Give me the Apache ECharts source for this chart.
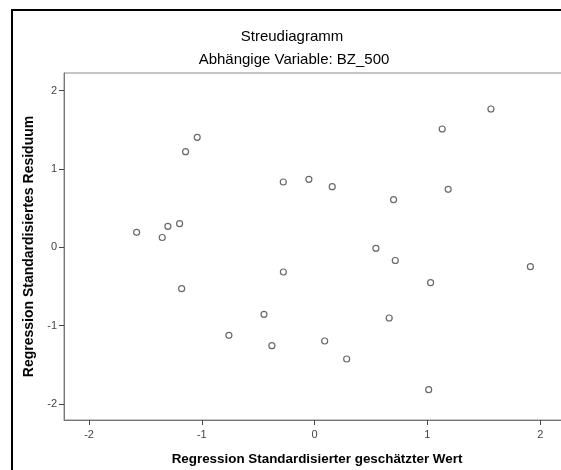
<!DOCTYPE html>
<html>
<head>
<meta charset="utf-8">
<script src="https://cdn.jsdelivr.net/npm/echarts@6/dist/echarts.min.js"></script>
<style>
html,body{margin:0;padding:0;background:#fff;overflow:hidden;}
#chart{width:561px;height:470px;}
</style>
</head>
<body>
<div id="chart"></div>
<script>
// Data
const predicted = [-1.578,-1.351,-1.301,-1.197,-1.179,-1.144,-1.041,-0.760,-0.449,-0.379,-0.277,-0.278,-0.051,0.089,0.156,0.284,0.543,0.661,0.700,0.715,1.011,1.028,1.131,1.184,1.563,1.913];
const residual  = [0.190,0.124,0.267,0.300,-0.530,1.220,1.404,-1.125,-0.857,-1.258,-0.317,0.833,0.867,-1.198,0.773,-1.428,-0.014,-0.904,0.607,-0.170,-1.820,-0.453,1.510,0.739,1.765,-0.249];
const xTicks = [-2,-1,0,1,2];
const yTicks = [-2,-1,0,1,2];
const titleText = 'Streudiagramm';
const subtitleText = 'Abhängige Variable: BZ_500';
const xName = 'Regression Standardisierter geschätzter Wert';
const yName = 'Regression Standardisiertes Residuum';

const points = predicted.map((x, i) => [x, residual[i]]);
const FONT = '"Liberation Sans", Arial, sans-serif';

const chart = echarts.init(document.getElementById('chart'), null, {renderer: 'canvas'});
chart.setOption({
  animation: false,
  backgroundColor: '#fff',
  graphic: [{
    type: 'rect',
    shape: {x: 12, y: 10, width: 900, height: 800},
    style: {fill: 'none', stroke: '#000', lineWidth: 2},
    z: 100
  }, {
    type: 'text',
    x: 292, y: 37,
    style: {text: titleText, align: 'center', verticalAlign: 'middle',
      font: 'normal 15px ' + FONT, fill: '#000'}
  }, {
    type: 'text',
    x: 294, y: 59.5,
    style: {text: subtitleText, align: 'center', verticalAlign: 'middle',
      font: 'normal 15px ' + FONT, fill: '#000'}
  }],
  grid: {
    left: 64, top: 73, width: 506, height: 347,
    outerBoundsMode: 'none',
    containLabel: false,
    show: true, borderColor: '#8a8a8a', borderWidth: 1, backgroundColor: '#fff'
  },
  xAxis: {
    type: 'value', min: -2.222, max: 2.264,
    name: xName, nameLocation: 'middle', nameGap: 33,
    nameTextStyle: {fontFamily: FONT, fontSize: 13.4, fontWeight: 'bold', color: '#000'},
    axisLine: {show: true, onZero: false, lineStyle: {color: '#777', width: 1}},
    axisTick: {show: true, length: 5, customValues: xTicks, lineStyle: {color: '#444'}},
    axisLabel: {customValues: xTicks, margin: 9, fontFamily: FONT, fontSize: 11, color: '#444'},
    splitLine: {show: false}
  },
  yAxis: {
    type: 'value', min: -2.207, max: 2.225,
    name: yName, nameLocation: 'middle', nameGap: 22,
    nameTextStyle: {fontFamily: FONT, fontSize: 14, fontWeight: 'bold', color: '#000'},
    axisLine: {show: true, onZero: false, lineStyle: {color: '#777', width: 1}},
    axisTick: {show: true, length: 5, customValues: yTicks, lineStyle: {color: '#444'}},
    axisLabel: {customValues: yTicks, margin: 7, fontFamily: FONT, fontSize: 11, color: '#444'},
    splitLine: {show: false}
  },
  series: [{
    type: 'scatter',
    data: points,
    symbol: 'circle',
    symbolSize: 6,
    itemStyle: {color: 'rgba(255,255,255,0)', borderColor: '#444', borderWidth: 1.2}
  }]
});
</script>
</body>
</html>
